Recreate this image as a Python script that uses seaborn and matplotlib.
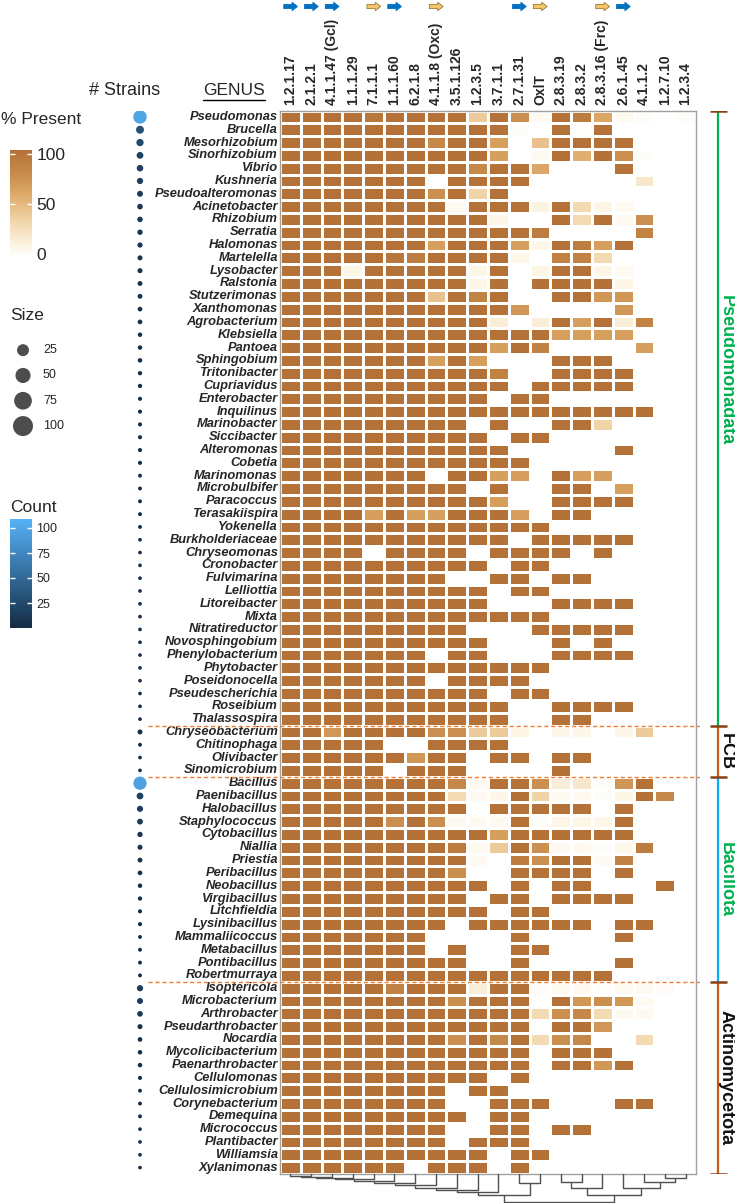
import numpy as np
import pandas as pd
import matplotlib
matplotlib.use("Agg")
import matplotlib.pyplot as plt
import seaborn as sns
from matplotlib.colors import LinearSegmentedColormap, Normalize
from matplotlib.cm import ScalarMappable
from matplotlib.patches import FancyArrow
from matplotlib.lines import Line2D

# ---------------- data ----------------
ec_labels = ["1.2.1.17", "2.1.2.1", "4.1.1.47 (Gcl)", "1.1.1.29", "7.1.1.1", "1.1.1.60",
             "6.2.1.8", "4.1.1.8 (Oxc)", "3.5.1.126", "1.2.3.5", "3.7.1.1", "2.7.1.31",
             "OxlT", "2.8.3.19", "2.8.3.2", "2.8.3.16 (Frc)", "2.6.1.45", "4.1.1.2",
             "1.2.7.10", "1.2.3.4"]
arrow_kind = ["blue", "blue", "blue", None, "yellow", "blue", None, "yellow", None, None,
              None, "blue", "yellow", None, None, "yellow", "blue", None, None, None]

groups = ["Pseudomonadata", "FCB", "Bacillota", "Actinomycetota"]
group_sizes = [48, 4, 16, 15]

genera = ["Pseudomonas", "Brucella", "Mesorhizobium", "Sinorhizobium", "Vibrio", "Kushneria",
          "Pseudoalteromonas", "Acinetobacter", "Rhizobium", "Serratia", "Halomonas", "Martelella",
          "Lysobacter", "Ralstonia", "Stutzerimonas", "Xanthomonas", "Agrobacterium", "Klebsiella",
          "Pantoea", "Sphingobium", "Tritonibacter", "Cupriavidus", "Enterobacter", "Inquilinus",
          "Marinobacter", "Siccibacter", "Alteromonas", "Cobetia", "Marinomonas", "Microbulbifer",
          "Paracoccus", "Terasakiispira", "Yokenella", "Burkholderiaceae", "Chryseomonas",
          "Cronobacter", "Fulvimarina", "Lelliottia", "Litoreibacter", "Mixta", "Nitratireductor",
          "Novosphingobium", "Phenylobacterium", "Phytobacter", "Poseidonocella", "Pseudescherichia",
          "Roseibium", "Thalassospira",
          "Chryseobacterium", "Chitinophaga", "Olivibacter", "Sinomicrobium",
          "Bacillus", "Paenibacillus", "Halobacillus", "Staphylococcus", "Cytobacillus", "Niallia",
          "Priestia", "Peribacillus", "Neobacillus", "Virgibacillus", "Litchfieldia", "Lysinibacillus",
          "Mammaliicoccus", "Metabacillus", "Pontibacillus", "Robertmurraya",
          "Isoptericola", "Microbacterium", "Arthrobacter", "Pseudarthrobacter", "Nocardia",
          "Mycolicibacterium", "Paenarthrobacter", "Cellulomonas", "Cellulosimicrobium",
          "Corynebacterium", "Demequina", "Micrococcus", "Plantibacter", "Williamsia", "Xylanimonas"]

strains = [98, 30, 24, 20, 18, 16, 14, 12, 11, 10, 9, 8, 8, 7, 7, 6, 6, 5, 5, 5, 4, 4, 3, 3,
           3, 3, 3, 3, 2, 2, 2, 2, 2, 1, 1, 1, 1, 1, 1, 1, 1, 1, 1, 1, 1, 1, 1, 1,
           8, 2, 1, 1,
           95, 20, 15, 13, 10, 8, 7, 6, 5, 4, 3, 3, 2, 2, 2, 2,
           16, 14, 12, 8, 6, 5, 5, 3, 2, 2, 2, 1, 1, 1, 1]

pct = [
    [100,100,100,100,95,100,100,100,100,40,100,75,5,100,90,60,5,3,0,3],
    [100,100,100,100,100,100,100,100,100,100,100,3,0,100,2,100,0,0,0,0],
    [100,100,100,100,100,100,100,80,100,100,65,0,45,100,100,100,100,0,0,0],
    [100,100,100,100,100,100,100,100,100,100,65,0,5,100,55,100,75,3,0,0],
    [100,100,100,100,100,100,100,100,100,80,100,100,60,0,0,0,100,0,0,0],
    [100,100,100,100,100,100,100,0,100,100,100,100,0,0,0,0,0,20,0,0],
    [100,100,100,100,100,100,100,75,100,35,100,0,0,0,0,0,0,0,0,0],
    [100,100,100,100,100,100,100,100,5,100,100,100,12,100,30,10,5,0,0,0],
    [100,100,100,100,100,100,100,100,100,100,10,0,0,100,30,100,5,75,0,0],
    [100,100,100,100,100,100,100,100,100,100,100,100,90,0,0,0,0,85,0,0],
    [100,100,100,100,100,100,100,65,100,100,100,65,8,100,90,65,100,0,0,0],
    [100,100,100,100,100,95,90,100,100,100,100,8,0,85,85,30,0,0,0,0],
    [100,100,100,10,100,100,100,100,100,10,100,0,10,100,100,10,5,0,0,0],
    [100,100,100,100,100,100,100,100,100,10,100,0,100,100,100,100,10,0,0,0],
    [100,100,100,100,100,100,100,45,100,85,100,0,0,100,100,70,70,0,0,0],
    [100,100,100,100,100,100,100,100,100,100,100,70,0,0,0,0,70,0,0,0],
    [100,100,100,100,100,100,100,100,100,100,15,0,15,100,65,100,15,85,0,0],
    [100,100,100,100,100,100,100,100,100,100,100,100,100,65,65,65,65,0,0,0],
    [100,100,100,100,100,100,100,100,100,100,65,100,85,0,0,0,0,65,0,0],
    [100,100,100,100,100,100,100,65,100,65,0,0,0,100,100,100,0,0,0,0],
    [100,100,100,100,100,100,100,100,100,100,85,0,0,100,100,100,100,0,0,0],
    [100,100,100,100,100,100,100,100,100,100,100,0,100,100,100,100,100,0,0,0],
    [100,100,100,100,100,100,100,100,100,100,0,100,100,0,0,0,0,0,0,0],
    [100,100,100,100,100,100,100,100,100,100,100,100,100,100,100,100,100,100,0,0],
    [100,100,100,100,100,100,100,100,100,0,100,0,0,100,100,35,0,0,0,0],
    [100,100,100,100,100,100,100,100,100,100,0,100,100,0,0,0,0,0,0,0],
    [100,100,100,100,100,100,100,100,100,100,100,0,0,0,0,0,100,0,0,0],
    [100,100,100,100,100,100,100,100,100,100,100,100,0,0,0,0,0,0,0,0],
    [100,100,100,100,100,100,100,0,100,100,65,65,0,100,65,65,0,0,0,0],
    [100,100,100,100,100,100,100,100,100,0,100,0,0,100,100,0,65,0,0,0],
    [100,100,100,100,100,100,100,100,100,100,65,0,0,100,100,100,100,0,0,0],
    [100,100,100,100,65,100,65,65,100,100,100,65,0,100,100,0,0,0,0,0],
    [100,100,100,100,100,100,100,100,100,100,100,100,100,0,0,0,0,0,0,0],
    [100,100,100,100,100,100,100,100,100,100,100,0,100,100,100,100,100,0,0,0],
    [100,100,100,100,0,100,100,100,100,0,100,100,100,100,0,100,0,0,0,0],
    [100,100,100,100,100,100,100,100,100,100,0,100,100,0,0,0,0,0,0,0],
    [100,100,100,100,100,100,100,100,0,0,100,100,0,100,100,0,0,0,0,0],
    [100,100,100,100,100,100,100,100,100,100,0,100,100,0,0,0,0,0,0,0],
    [100,100,100,100,100,100,100,100,100,100,0,0,0,100,100,100,100,0,0,0],
    [100,100,100,100,100,100,100,100,100,100,100,100,100,0,0,0,0,0,0,0],
    [100,100,100,100,100,100,100,100,100,0,0,0,100,100,100,100,100,0,0,0],
    [100,100,100,100,100,100,100,100,100,100,0,0,0,100,0,100,0,0,0,0],
    [100,100,100,100,100,100,100,0,100,100,0,0,0,100,100,100,100,0,0,0],
    [100,100,100,100,100,100,100,100,100,100,100,100,100,0,0,0,0,0,0,0],
    [100,100,100,100,100,100,100,0,100,100,100,100,0,0,0,0,0,0,0,0],
    [100,100,100,100,100,100,100,100,100,100,0,100,100,0,0,0,0,0,0,0],
    [100,100,100,100,100,100,100,100,100,100,100,0,0,100,100,100,100,0,0,0],
    [100,100,100,100,100,100,100,100,100,100,100,0,0,100,100,0,0,0,0,0],
    # FCB
    [100,100,70,100,100,100,100,75,75,40,40,10,0,8,8,0,8,40,0,0],
    [100,100,100,100,100,0,0,100,100,100,100,0,0,0,0,0,0,0,0,0],
    [100,100,100,100,100,100,70,100,100,0,100,100,0,100,100,0,0,0,0,0],
    [100,100,100,100,100,0,100,100,100,0,0,0,0,100,0,0,0,0,0,0],
    # Bacillota
    [100,100,100,100,100,100,100,100,80,5,100,100,75,15,20,3,70,100,0,0],
    [100,100,100,100,100,100,100,100,30,5,8,100,35,5,5,3,10,100,80,0],
    [100,100,100,100,100,100,100,100,100,0,100,100,100,100,100,0,100,0,0,0],
    [100,100,100,100,100,75,100,75,5,5,5,100,3,10,8,8,100,0,0,0],
    [100,100,100,100,100,100,100,100,100,100,65,100,100,100,100,100,100,0,0,0],
    [100,100,100,100,100,100,100,100,90,5,40,100,75,5,5,3,8,90,0,0],
    [100,100,100,100,100,100,100,100,100,5,0,90,75,100,100,5,85,0,0,0],
    [100,100,100,100,100,100,100,100,75,0,0,100,100,100,100,0,100,0,0,0],
    [100,100,100,100,100,100,100,100,100,100,0,100,0,100,100,0,0,0,100,0],
    [100,100,100,100,100,100,100,100,100,0,100,100,0,100,100,100,100,0,0,0],
    [100,100,100,100,100,100,100,100,100,100,0,100,100,0,0,0,0,0,0,0],
    [100,100,100,100,100,100,100,100,0,100,100,100,100,100,100,0,100,100,0,0],
    [100,100,100,100,100,100,100,0,0,0,0,100,0,0,0,0,100,0,0,0],
    [100,100,100,100,100,100,100,0,100,0,0,100,100,0,0,0,0,0,0,0],
    [100,100,100,100,100,100,100,100,100,0,0,100,0,0,0,0,100,0,0,0],
    [100,100,100,100,100,100,100,100,100,100,100,100,100,100,100,100,0,0,0,0],
    # Actinomycetota
    [100,100,100,100,100,85,100,100,100,15,100,100,3,5,5,2,5,5,3,0],
    [100,100,100,100,100,100,100,100,75,100,100,100,0,100,70,75,70,5,0,0],
    [100,100,100,100,100,100,100,100,100,100,100,100,30,75,80,30,5,5,0,0],
    [100,100,100,100,100,100,100,100,100,100,100,100,0,100,100,70,0,0,0,0],
    [100,100,100,100,100,100,100,100,75,100,80,100,30,75,80,0,0,30,0,0],
    [100,100,100,100,100,100,100,100,100,100,100,100,0,100,100,100,0,0,0,0],
    [100,100,100,100,100,100,100,100,100,100,100,100,0,100,100,70,100,0,0,0],
    [100,100,100,100,100,100,100,100,100,100,0,100,0,0,0,0,0,0,0,0],
    [100,100,100,100,100,100,100,100,0,100,100,0,0,0,0,0,0,0,0,0],
    [100,100,100,100,100,100,100,100,0,0,100,100,100,0,0,0,100,100,0,0],
    [100,100,100,100,100,100,100,100,100,0,100,100,0,0,0,0,0,0,0,0],
    [100,100,100,100,100,100,100,100,0,0,100,100,0,100,100,0,0,0,0,0],
    [100,100,100,100,100,100,100,100,0,100,100,100,0,0,0,0,0,0,0,0],
    [100,100,100,100,100,100,100,100,100,100,0,100,100,0,0,0,0,0,0,0],
    [100,100,100,100,100,100,0,100,100,100,0,100,0,0,0,0,0,0,0,0],
]

size_legend_values = [25, 50, 75, 100]
count_ticks = [25, 50, 75, 100]
present_ticks = [0, 50, 100]

# column dendrogram: (left, right, height); leaves 0..19, new nodes 20..
col_linkage = [(0, 1, 0.06), (20, 2, 0.10), (21, 3, 0.16), (22, 4, 0.19), (23, 5, 0.25),
               (24, 6, 0.31), (25, 7, 0.41), (26, 8, 0.50), (27, 9, 0.56), (28, 10, 0.63),
               (11, 12, 0.31), (29, 30, 0.75), (13, 14, 0.29), (32, 15, 0.50),
               (18, 19, 0.16), (17, 34, 0.29), (16, 35, 0.50), (33, 36, 0.75), (31, 37, 1.0)]

# ---------------- style ----------------
sns.set_style("white")
plt.rcParams["font.family"] = ["Liberation Sans", "DejaVu Sans"]

W, H = 735, 1203
fig = plt.figure(figsize=(W / 100, H / 100), dpi=100)


def add_ax(x0, y0, x1, y1):
    return fig.add_axes([x0 / W, 1 - y1 / H, (x1 - x0) / W, (y1 - y0) / H])


pres_cmap = LinearSegmentedColormap.from_list(
    "pres", [(0, "#FFFFFF"), (0.1, "#FDF5E4"), (0.35, "#F0D3A6"), (0.6, "#DCA766"),
             (0.8, "#C68848"), (1, "#B47238")])
count_cmap = LinearSegmentedColormap.from_list("cnt", ["#132B43", "#56B1F7"])
count_norm = Normalize(0, 109)

HX0, HX1, HY0, HY1 = 280, 696, 110.5, 1174
n_rows = len(genera)

# ---------------- heatmap ----------------
ax = add_ax(HX0, HY0, HX1, HY1)
df = pd.DataFrame(pct, index=genera, columns=ec_labels)
sns.heatmap(df, ax=ax, cmap=pres_cmap, vmin=0, vmax=100, cbar=False,
            linewidths=0.8, linecolor="white", xticklabels=True, yticklabels=True)
ax.xaxis.tick_top()
ax.set_xticklabels(ec_labels, rotation=90, fontsize=10, fontweight="bold")
ax.set_yticklabels(genera, rotation=0, fontsize=9.3, fontweight="bold", fontstyle="italic")
ax.tick_params(axis="both", length=0)
ax.tick_params(axis="y", pad=1.5)
ax.tick_params(axis="x", pad=4)
ax.set_xlabel("")
ax.set_ylabel("")
for sp in ax.spines.values():
    sp.set_visible(True)
    sp.set_color("#A0A0A0")
    sp.set_linewidth(1)

# ---------------- strain dots ----------------
axd = add_ax(125, HY0, 155, HY1)
dfd = pd.DataFrame({"genus": genera, "n": strains, "x": 0.5})
sns.scatterplot(data=dfd, x="x", y="genus", hue="n", size="n", palette=count_cmap,
                hue_norm=count_norm, sizes=(7, 95), size_norm=(1, 100), legend=False,
                linewidth=0, ax=axd)
axd.set_ylim(n_rows - 0.5, -0.5)
axd.set_xlim(0, 1)
axd.axis("off")

# ---------------- separators ----------------
bounds = np.cumsum([0] + group_sizes)
axs = add_ax(148, HY0, 700, HY1)
axs.set_ylim(n_rows, 0)
axs.set_xlim(0, 1)
axs.hlines(bounds[1:-1], 0, 1, colors="#ED7D31", linestyles=(0, (3, 2)), lw=1)
axs.axis("off")

# ---------------- right brackets ----------------
axb = add_ax(700, HY0, 735, HY1)
axb.set_ylim(n_rows, 0)
axb.set_xlim(0, 35)
axb.axis("off")
line_colors = ["#00B050", "#C55A11", "#00B0F0", "#C55A11"]
text_colors = ["#00B050", "#111111", "#00B050", "#111111"]
label_rows = [20.3, None, None, None]
for g, name in enumerate(groups):
    axb.vlines(18, bounds[g], bounds[g + 1], colors=line_colors[g], lw=1.6)
    yc = label_rows[g] if label_rows[g] is not None else (bounds[g] + bounds[g + 1]) / 2
    axb.text(22, yc, name, rotation=-90, rotation_mode="anchor", ha="center", va="baseline",
             fontsize=13, fontweight="bold", color=text_colors[g], clip_on=False)
axb.hlines(bounds, 10, 27, colors="#8B3E13", lw=1.8)

# ---------------- column arrows ----------------
axa = add_ax(HX0, 0, HX1, 13)
axa.set_xlim(0, len(ec_labels))
axa.set_ylim(13, 0)
axa.axis("off")
for i, kind in enumerate(arrow_kind):
    if kind is None:
        continue
    fc = "#0070C0" if kind == "blue" else "#F6C46C"
    ecol = "#0070C0" if kind == "blue" else "#9C7A2E"
    axa.add_patch(FancyArrow(i + 0.5 - 0.32, 6.5, 0.66, 0, width=4.2, head_width=8.5,
                             head_length=0.26, length_includes_head=True,
                             facecolor=fc, edgecolor=ecol, lw=0.6))

# ---------------- dendrogram ----------------
axg = add_ax(HX0, HY1, HX1, 1202)
axg.set_xlim(0, len(ec_labels))
axg.set_ylim(1.0, 0)
axg.axis("off")
pos = {i: (i + 0.5, 0.0) for i in range(len(ec_labels))}
nid = len(ec_labels)
for a, b, h in col_linkage:
    xa, ha = pos[a]
    xb, hb = pos[b]
    axg.plot([xa, xa, xb, xb], [ha, h, h, hb], color="#505050", lw=1, clip_on=False)
    pos[nid] = ((xa + xb) / 2, h)
    nid += 1

# ---------------- headers ----------------
fig.text(125 / W, 1 - 95 / H, "# Strains", ha="center", va="baseline", fontsize=13)
tg = fig.text(234 / W, 1 - 95 / H, "GENUS", ha="center", va="baseline", fontsize=12.5)

# ---------------- legends ----------------
fig.text(1 / W, 1 - 120 / H, "% Present", ha="left", va="center", fontsize=12.5)
cax = add_ax(10, 150, 32, 257)
pnorm = Normalize(-3, 104)
cb = fig.colorbar(ScalarMappable(norm=pnorm, cmap=pres_cmap), cax=cax, ticks=present_ticks)
cb.outline.set_visible(False)
cax.tick_params(length=0, labelsize=12.5, pad=3)
cax.hlines(present_ticks[1:], 0, 0.22, colors="white", lw=1, transform=cax.get_yaxis_transform())
cax.hlines(present_ticks[1:], 0.78, 1, colors="white", lw=1, transform=cax.get_yaxis_transform())

fig.text(10 / W, 1 - 316 / H, "Size", ha="left", va="center", fontsize=12.5)
axl = add_ax(0, 337.5, 80, 438.7)
dfl = pd.DataFrame({"x": 23, "lab": [str(v) for v in size_legend_values], "v": size_legend_values})
sns.scatterplot(data=dfl, x="x", y="lab", size="v", sizes=(74, 207), size_norm=(25, 100),
                color="#4D4D4D", linewidth=0, legend=False, ax=axl)
axl.set_xlim(0, 80)
axl.set_ylim(len(size_legend_values) - 0.5, -0.5)
for j, lab in enumerate(dfl["lab"]):
    axl.text(43, j, lab, ha="left", va="center", fontsize=9)
axl.axis("off")

fig.text(10 / W, 1 - 508 / H, "Count", ha="left", va="center", fontsize=12.5)
cax2 = add_ax(10, 519, 32, 628)
cb2 = fig.colorbar(ScalarMappable(norm=count_norm, cmap=count_cmap), cax=cax2, ticks=count_ticks)
cb2.outline.set_visible(False)
cax2.tick_params(length=0, labelsize=9, pad=3)
cax2.hlines(count_ticks, 0, 0.22, colors="white", lw=1, transform=cax2.get_yaxis_transform())
cax2.hlines(count_ticks, 0.78, 1, colors="white", lw=1, transform=cax2.get_yaxis_transform())

# underline for GENUS
fig.canvas.draw()
bb = tg.get_window_extent()
fig.add_artist(Line2D([bb.x0 / W, bb.x1 / W], [(bb.y0 - 2) / H, (bb.y0 - 2) / H],
                      color="black", lw=1, transform=fig.transFigure))

fig.savefig("out.png", dpi=100)
